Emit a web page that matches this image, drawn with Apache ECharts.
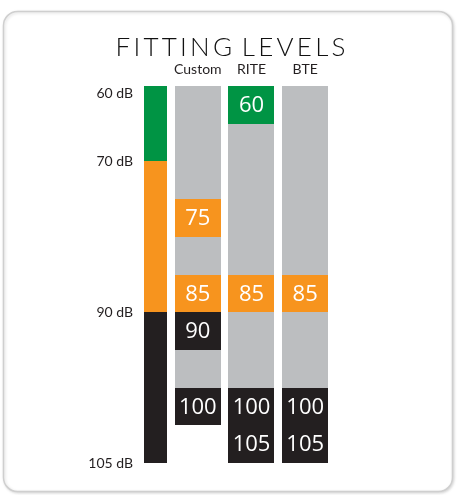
<!DOCTYPE html>
<html>
<head>
<meta charset="utf-8">
<script src="https://cdn.jsdelivr.net/npm/echarts@6/dist/echarts.min.js"></script>
<style>
  html, body { margin: 0; padding: 0; background: #fff; }
  #chart { width: 461px; height: 495px; }
</style>
</head>
<body>
<div id="chart"></div>
<script>
// columns (hearing aid styles) and the dB levels marked in each one
var columns = ["Custom", "RITE", "BTE"];
var rowStep = 5;
var columnLastRow = [100, 105, 105];
var customMarks = [75, 85, 90, 100];
var riteMarks = [60, 85, 100, 105];
var bteMarks = [85, 100, 105];

// level bar on the left
var bandStart = [60, 70, 90];
var bandEnd = [70, 90, 110];
var bandColors = ["#009444", "#F7941E", "#231F20"];
var levelTicks = [60, 70, 90, 110];
var levelTickLabels = ["60 dB", "70 dB", "90 dB", "105 dB"];

var GRAY = "#BCBEC0";

function colorFor(level) {
  for (var i = 0; i < bandStart.length; i++) {
    if (level >= bandStart[i] && level < bandEnd[i]) return bandColors[i];
  }
  return bandColors[bandColors.length - 1];
}

var markData = [];
[customMarks, riteMarks, bteMarks].forEach(function (list, col) {
  list.forEach(function (lv) {
    markData.push([col, lv]);
  });
});
var backData = columnLastRow.map(function (last, col) {
  return [col, last];
});
var bandData = bandStart.map(function (s, i) {
  return [0, s, bandEnd[i], i];
});

var myChart = echarts.init(document.getElementById("chart"));

var option = {
  animation: false,
  title: {
    text: "F\u2009I\u2009T\u2009T\u2009I\u2009N\u2009G\u2009\u2009\u2009L\u2009E\u2009V\u2009E\u2009L\u2009S",
    left: "center",
    top: 30,
    textStyle: {
      fontFamily: "Lato",
      fontWeight: 300,
      fontSize: 26,
      color: "#111",
    },
  },
  graphic: [
    {
      type: "rect",
      shape: { x: 3.5, y: 11.5, width: 449, height: 480, r: 14 },
      style: {
        fill: "#fff",
        stroke: "#cfcfcf",
        lineWidth: 1.5,
        shadowBlur: 3,
        shadowColor: "rgba(0,0,0,0.15)",
        shadowOffsetX: 1,
        shadowOffsetY: 1,
      },
      z: -10,
    },
  ],
  grid: [
    { left: 144, width: 23, top: 86, height: 377 },
    { left: 171, width: 161, top: 86, height: 377 },
  ],
  xAxis: [
    {
      gridIndex: 0,
      type: "category",
      data: [""],
      show: false,
    },
    {
      gridIndex: 1,
      type: "category",
      data: columns,
      position: "top",
      axisLine: { show: false },
      axisTick: { show: false },
      axisLabel: {
        interval: 0,
        margin: 10,
        fontFamily: "Lato",
        fontSize: 14,
        color: "#231F20",
      },
    },
  ],
  yAxis: [
    {
      gridIndex: 0,
      type: "value",
      inverse: true,
      min: 60,
      max: 110,
      interval: 5,
      splitLine: { show: false },
      axisLine: { show: false },
      axisTick: { show: false },
      axisLabel: {
        margin: 11,
        fontFamily: "Lato",
        fontSize: 14,
        color: "#231F20",
        verticalAlignMinLabel: "top",
        formatter: function (v) {
          var i = levelTicks.indexOf(v);
          return i >= 0 ? levelTickLabels[i] : "";
        },
      },
    },
    {
      gridIndex: 1,
      type: "value",
      inverse: true,
      min: 60,
      max: 110,
      interval: 5,
      show: false,
    },
  ],
  series: [
    {
      // level bar
      type: "custom",
      xAxisIndex: 0,
      yAxisIndex: 0,
      data: bandData,
      renderItem: function (params, api) {
        var a = api.coord([api.value(0), api.value(1)]);
        var b = api.coord([api.value(0), api.value(2)]);
        var w = api.size([1, 0])[0];
        var y0 = Math.round(a[1]), y1 = Math.round(b[1]);
        return {
          type: "rect",
          shape: { x: a[0] - w / 2, y: y0, width: w, height: y1 - y0 },
          style: { fill: bandColors[api.value(3)] },
        };
      },
    },
    {
      // gray columns
      type: "custom",
      xAxisIndex: 1,
      yAxisIndex: 1,
      data: backData,
      renderItem: function (params, api) {
        var a = api.coord([api.value(0), 60]);
        var b = api.coord([api.value(0), api.value(1) + rowStep]);
        var w = api.size([1, 0])[0] * 0.86;
        var y0 = Math.round(a[1]), y1 = Math.round(b[1]);
        return {
          type: "rect",
          shape: { x: Math.round(a[0] - w / 2), y: y0, width: Math.round(w), height: y1 - y0 },
          style: { fill: GRAY },
        };
      },
    },
    {
      // marked levels
      type: "custom",
      xAxisIndex: 1,
      yAxisIndex: 1,
      data: markData,
      z: 3,
      renderItem: function (params, api) {
        var lv = api.value(1);
        var a = api.coord([api.value(0), lv]);
        var b = api.coord([api.value(0), lv + rowStep]);
        var w = api.size([1, 0])[0] * 0.86;
        var y0 = Math.round(a[1]), y1 = Math.round(b[1]);
        return {
          type: "group",
          children: [
            {
              type: "rect",
              shape: { x: Math.round(a[0] - w / 2), y: y0, width: Math.round(w), height: y1 - y0 },
              style: { fill: colorFor(lv) },
            },
            {
              type: "text",
              style: {
                x: a[0],
                y: (y0 + y1) / 2 + 1,
                text: String(lv),
                fill: "#fff",
                fontFamily: "Open Sans",
                fontSize: 22,
                align: "center",
                verticalAlign: "middle",
              },
            },
          ],
        };
      },
    },
  ],
};

myChart.setOption(option);
window.addEventListener("resize", function () {
  myChart.resize();
});
</script>
</body>
</html>
